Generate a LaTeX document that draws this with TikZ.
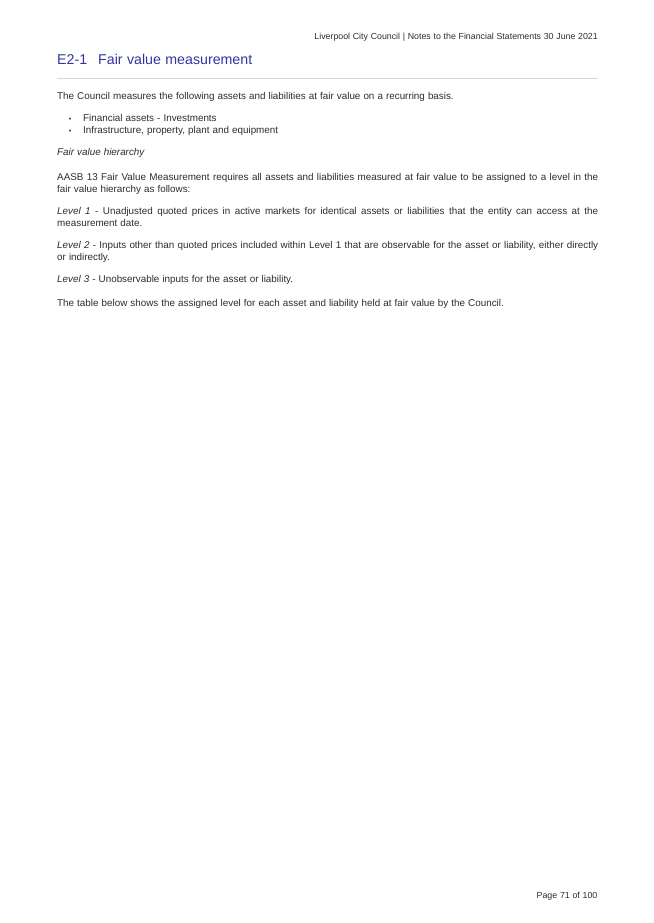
\documentclass[tikz,border=0pt]{standalone}
\usepackage{fontspec}
\setmainfont[WordSpace={1.12,2.5,0}]{Liberation Sans}
\definecolor{titleblue}{RGB}{52,52,160}
\definecolor{bodygray}{RGB}{45,45,45}
\definecolor{rulegray}{RGB}{215,215,215}
\tikzset{
  bodytext/.style={anchor=base west, inner sep=0pt, text=bodygray, font=\fontsize{9.85}{11.7}\selectfont},
  para/.style={bodytext, text width=541pt, align=justify, execute at begin node={\hyphenpenalty=10000\exhyphenpenalty=10000\tolerance=9999}},
  bulletdot/.style={anchor=base, inner sep=0pt, text=bodygray, font=\fontsize{7}{8}\selectfont},
  pagetext/.style={anchor=base east, inner sep=0pt, text=bodygray, font=\fontsize{8.8}{10}\selectfont}
}
\begin{document}
\begin{tikzpicture}[x=1pt,y=-1pt]
\useasboundingbox[fill=white] (0,0) rectangle (653,923);

\node[pagetext] (header) at (598,40) {Liverpool City Council | Notes to the Financial Statements 30 June 2021};
\node[anchor=base west, inner sep=0pt, text=titleblue, font=\fontsize{14.2}{17}\selectfont] (title) at (57,65) {E2-1\hspace{11pt}Fair value measurement};
\coordinate (ruleL) at (57,78.3);
\coordinate (ruleR) at (598,78.3);
\draw[rulegray, line width=0.8pt] (ruleL) -- (ruleR);

\node[bodytext] (intro) at (57,100) {The Council measures the following assets and liabilities at fair value on a recurring basis.};

\begin{scope}
\node[bulletdot] (dotA) at (70,121.5) {\textbullet};
\node[bodytext] (itemA) at (83,121.5) {Financial assets - Investments};
\node[bulletdot] (dotB) at (70,133.2) {\textbullet};
\node[bodytext] (itemB) at (83,133.2) {Infrastructure, property, plant and equipment};
\end{scope}

\node[bodytext, font=\fontsize{9.85}{11.7}\selectfont\itshape] (hier) at (57,155.5) {Fair value hierarchy};
\node[para] (aasb) at (57,180.5) {AASB 13 Fair Value Measurement requires all assets and liabilities measured at fair value to be assigned to a level in the fair value hierarchy as follows:};
\node[para] (lvlA) at (57,214.3) {\textit{Level 1} - Unadjusted quoted prices in active markets for identical assets or liabilities that the entity can access at the measurement date.};
\node[para] (lvlB) at (57,248.4) {\textit{Level 2} - Inputs other than quoted prices included within Level 1 that are observable for the asset or liability, either directly or indirectly.};
\node[bodytext] (lvlC) at (57,282.6) {\textit{Level 3} - Unobservable inputs for the asset or liability.};
\node[bodytext] (tbl) at (57,306.8) {The table below shows the assigned level for each asset and liability held at fair value by the Council.};

\node[pagetext] (pagenum) at (597.5,898.5) {Page 71 of 100};

\end{tikzpicture}
\end{document}
